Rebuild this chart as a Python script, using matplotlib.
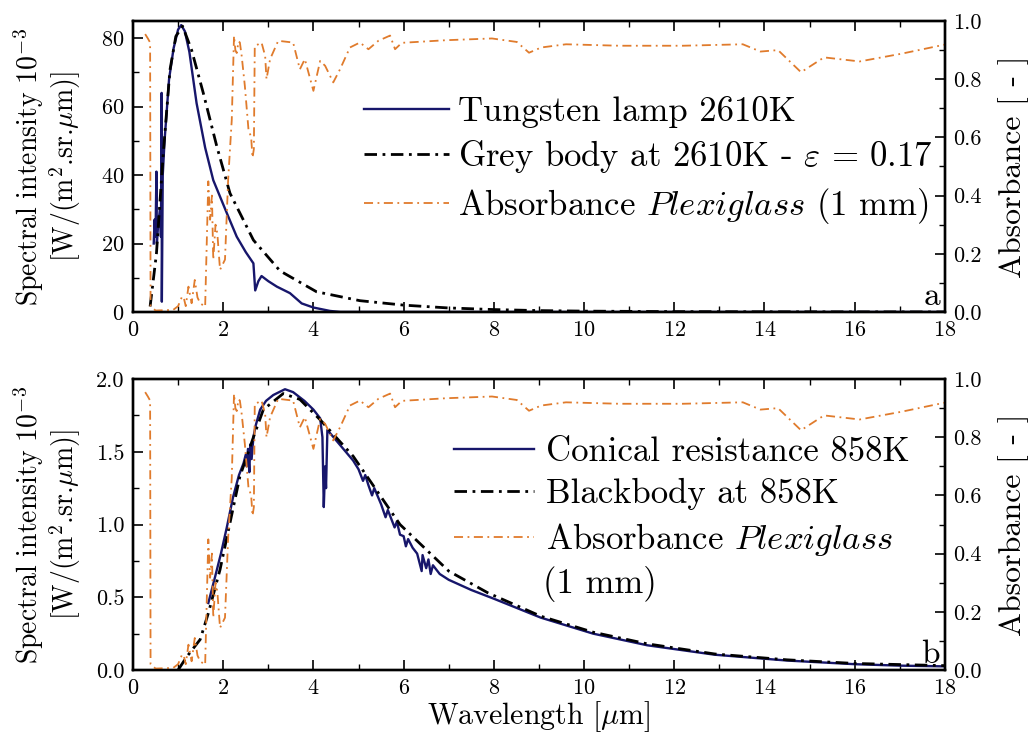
import matplotlib
matplotlib.use("Agg")
import matplotlib.pyplot as plt
from matplotlib.ticker import MultipleLocator, FormatStrFormatter

plt.rcParams['font.family'] = ['cmr10', 'DejaVu Serif']
plt.rcParams['mathtext.fontset'] = 'cm'
plt.rcParams['axes.formatter.use_mathtext'] = True
plt.rcParams['axes.unicode_minus'] = False

# ---------------- data ----------------
# Absorbance of Plexiglass (1 mm), same in both panels
abs_x = [0.27, 0.33, 0.38, 0.39, 0.50, 0.89, 1.00, 1.08, 1.12, 1.17, 1.23, 1.30, 1.37,
         1.43, 1.49, 1.60, 1.67, 1.71, 1.75, 1.78, 1.83, 1.87, 1.93, 2.04, 2.11, 2.19,
         2.24, 2.27, 2.30, 2.34, 2.37, 2.41, 2.48, 2.56, 2.62, 2.65, 2.68, 2.70, 2.78,
         2.85, 2.93, 2.96, 3.04, 3.22, 3.55, 3.70, 3.81, 4.00, 4.15, 4.26, 4.44, 4.59,
         4.81, 5.03, 5.22, 5.44, 5.70, 5.81, 5.96, 6.94, 7.96, 8.51, 8.78, 9.05, 9.60,
         10.78, 12.19, 13.52, 13.91, 14.30, 14.81, 15.32, 16.11, 17.05, 18.0]
abs_y = [0.955, 0.94, 0.926, 0.02, 0.005, 0.007, 0.02, 0.05, 0.053, 0.02, 0.087, 0.03, 0.11,
         0.05, 0.03, 0.018, 0.449, 0.317, 0.40, 0.18, 0.30, 0.27, 0.145, 0.18, 0.455, 0.66,
         0.949, 0.90, 0.89, 0.93, 0.926, 0.88, 0.777, 0.628, 0.60, 0.53, 0.56, 0.915, 0.92,
         0.926, 0.88, 0.80, 0.869, 0.932, 0.926, 0.834, 0.869, 0.76, 0.863, 0.846, 0.789, 0.834,
         0.909, 0.926, 0.903, 0.932, 0.95, 0.903, 0.925, 0.934, 0.94, 0.928, 0.891, 0.909, 0.92,
         0.915, 0.915, 0.92, 0.895, 0.90, 0.824, 0.875, 0.861, 0.888, 0.919]

# Panel a: tungsten lamp 2610K
lamp_x = [0.46, 0.48, 0.50, 0.52, 0.53, 0.56, 0.60, 0.62, 0.635, 0.64, 0.66, 0.70, 0.80,
          0.90, 1.00, 1.07, 1.15, 1.25, 1.41, 1.60, 1.78, 2.08, 2.30, 2.50, 2.67, 2.71,
          2.78, 2.85, 3.00, 3.19, 3.48, 3.74, 4.00, 4.37, 4.60, 18.0]
lamp_y = [20, 27, 22, 41, 20, 26, 30, 22, 64, 3, 40, 50, 68,
          77, 82.5, 83.8, 82, 76, 61, 48, 38.5, 28.9, 22, 17.5, 14.2, 6.3,
          9, 10.5, 9, 7.4, 5.5, 2.5, 1.3, 0.3, 0.0, 0.0]

grey_x = [0.38, 0.52, 0.67, 0.82, 0.95, 1.10, 1.30, 1.56, 1.86, 2.15, 2.67, 3.26, 4.07,
          5.03, 6.0, 6.96, 8.0, 9.0, 10.0, 12.0, 14.0, 18.0]
grey_y = [1.6, 17, 46, 70.7, 80.5, 83.5, 76.5, 63.9, 48.3, 34.7, 21, 12.0, 5.9,
          3.3, 2.0, 1.2, 0.7, 0.4, 0.25, 0.1, 0.05, 0.0]

# Panel b: conical resistance 858K
cone_x = [1.67, 1.72, 1.82, 1.95, 2.08, 2.22, 2.35, 2.45, 2.50, 2.52, 2.55, 2.58, 2.60,
          2.63, 2.67, 2.72, 2.82, 2.95, 3.11, 3.37, 3.55, 3.80, 4.00, 4.15, 4.20, 4.23,
          4.26, 4.28, 4.31, 4.50, 4.88, 5.00, 5.10, 5.15, 5.22, 5.30, 5.35, 5.50, 5.60,
          5.65, 5.80, 5.85, 5.92, 6.00, 6.05, 6.10, 6.20, 6.30, 6.40, 6.42, 6.50, 6.55,
          6.60, 6.65, 6.80, 7.00, 7.50, 8.00, 9.04, 10.2, 11.4, 12.9, 14.5, 16.0, 17.0, 18.0]
cone_y = [0.46, 0.52, 0.64, 0.80, 0.98, 1.19, 1.34, 1.42, 1.48, 1.40, 1.52, 1.36, 1.55,
          1.45, 1.60, 1.68, 1.79, 1.85, 1.89, 1.93, 1.91, 1.85, 1.79, 1.73, 1.60, 1.12,
          1.40, 1.25, 1.65, 1.58, 1.44, 1.38, 1.30, 1.34, 1.27, 1.20, 1.25, 1.14, 1.05,
          1.10, 0.98, 1.02, 0.93, 0.92, 0.85, 0.90, 0.84, 0.80, 0.68, 0.79, 0.70, 0.76,
          0.66, 0.72, 0.66, 0.62, 0.55, 0.49, 0.36, 0.25, 0.17, 0.105, 0.065, 0.04, 0.03, 0.025]

bb_x = [1.00, 1.19, 1.49, 1.67, 1.93, 2.15, 2.37, 2.67, 2.89, 3.33, 3.70, 4.15, 4.88,
        5.92, 7.00, 7.87, 9.04, 10.2, 11.4, 12.9, 14.5, 16.0, 18.0]
bb_y = [0.0, 0.09, 0.21, 0.39, 0.69, 1.01, 1.33, 1.60, 1.79, 1.90, 1.86, 1.72, 1.47,
        1.00, 0.68, 0.53, 0.37, 0.26, 0.18, 0.11, 0.07, 0.045, 0.03]

labels_a = ['Tungsten lamp 2610K',
            r'Grey body at 2610K - $\varepsilon$ = 0.17',
            r'Absorbance $\mathit{Plexiglass}$ (1 mm)']
labels_b = ['Conical resistance 858K',
            'Blackbody at 858K',
            r'Absorbance $\mathit{Plexiglass}$']

# ---------------- styling ----------------
NAVY = '#17166b'
ORANGE = '#e07b2c'
BLACK = '#000000'
bb_dash = (4.5, 2, 1, 2)
abs_dash = (5, 2.5, 1, 2.5)

fig = plt.figure(figsize=(10.30, 7.37), dpi=100)
ax_a = fig.add_axes([0.1291, 0.5767, 0.7883, 0.3948])
ax_b = fig.add_axes([0.1291, 0.0909, 0.7883, 0.3948])


def style_axes(ax, twin):
    for a in (ax, twin):
        for s in a.spines.values():
            s.set_linewidth(1.7)
    ax.set_xlim(0, 18)
    ax.xaxis.set_major_locator(MultipleLocator(2))
    ax.xaxis.set_minor_locator(MultipleLocator(1))
    ax.tick_params(axis='x', which='both', direction='in', top=True, bottom=True,
                   labelsize=16, pad=6)
    ax.tick_params(axis='y', which='both', direction='in', left=True, right=False,
                   labelsize=16, pad=6)
    ax.tick_params(which='major', length=7, width=1.2)
    ax.tick_params(which='minor', length=4, width=1.0)
    twin.set_ylim(0, 1.0)
    twin.yaxis.set_major_locator(MultipleLocator(0.2))
    twin.yaxis.set_minor_locator(MultipleLocator(0.1))
    twin.yaxis.set_major_formatter(FormatStrFormatter('%.1f'))
    twin.tick_params(axis='y', which='both', direction='in', labelsize=16, pad=6)
    twin.tick_params(which='major', length=7, width=1.2)
    twin.tick_params(which='minor', length=4, width=1.0)
    twin.set_ylabel('Absorbance [ - ]', fontsize=23)
    twin.yaxis.set_label_coords(1.065, 0.5)


ylabel = 'Spectral intensity 10$^{-3}$\n[W/(m$^{2}$.sr.$\\mu$m)]'

# ---- panel a ----
tw_a = ax_a.twinx()
l1, = ax_a.plot(lamp_x, lamp_y, color=NAVY, lw=1.7)
l2, = ax_a.plot(grey_x, grey_y, color=BLACK, lw=2.0, dashes=bb_dash)
l3, = tw_a.plot(abs_x, abs_y, color=ORANGE, lw=1.3, dashes=abs_dash)
ax_a.set_ylim(0, 85)
ax_a.yaxis.set_major_locator(MultipleLocator(20))
ax_a.yaxis.set_minor_locator(MultipleLocator(10))
style_axes(ax_a, tw_a)
ax_a.set_ylabel(ylabel, fontsize=20, linespacing=1.05)
ax_a.yaxis.set_label_coords(-0.062, 0.5)
tw_a.legend([l1, l2, l3], labels_a, loc='upper left', bbox_to_anchor=(0.285, 0.742),
            frameon=False, fontsize=25, handlelength=2.45, handletextpad=0.25,
            labelspacing=0.3, borderpad=0, borderaxespad=0)
tw_a.text(0.994, 0.005, 'a', transform=tw_a.transAxes, ha='right', va='bottom', fontsize=24)

# ---- panel b ----
tw_b = ax_b.twinx()
m1, = ax_b.plot(cone_x, cone_y, color=NAVY, lw=1.7)
m2, = ax_b.plot(bb_x, bb_y, color=BLACK, lw=2.0, dashes=bb_dash)
m3, = tw_b.plot(abs_x, abs_y, color=ORANGE, lw=1.3, dashes=abs_dash)
ax_b.set_ylim(0, 2.0)
ax_b.yaxis.set_major_locator(MultipleLocator(0.5))
ax_b.yaxis.set_minor_locator(MultipleLocator(0.25))
ax_b.yaxis.set_major_formatter(FormatStrFormatter('%.1f'))
style_axes(ax_b, tw_b)
ax_b.set_ylabel(ylabel, fontsize=20, linespacing=1.05)
ax_b.yaxis.set_label_coords(-0.062, 0.5)
ax_b.set_xlabel('Wavelength [$\\mu$m]', fontsize=21.5, labelpad=1)
tw_b.legend([m1, m2, m3], labels_b, loc='upper left', bbox_to_anchor=(0.395, 0.804),
            frameon=False, fontsize=25, handlelength=2.3, handletextpad=0.35,
            labelspacing=0.3, borderpad=0, borderaxespad=0)
tw_b.text(0.505, 0.296, '(1 mm)', transform=tw_b.transAxes, ha='left', va='center', fontsize=25)
tw_b.text(0.994, 0.005, 'b', transform=tw_b.transAxes, ha='right', va='bottom', fontsize=24)

fig.savefig('out.png', dpi=100)
